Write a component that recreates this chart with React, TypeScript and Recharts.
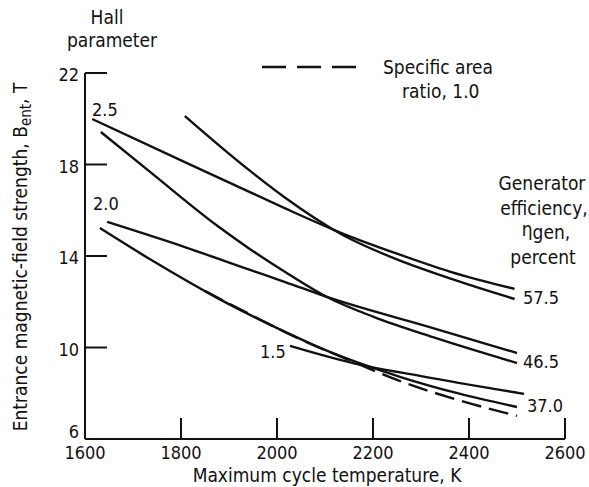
import { LineChart, Line, XAxis, YAxis } from 'recharts';

// Maximum cycle temperature (K) and entrance field strength (T) for each curve
const hall25Temp = [1615, 1808, 1912, 2017, 2137, 2250, 2360, 2495];
const hall25Field = [19.99, 18.1, 17.1, 16.08, 14.98, 14.1, 13.32, 12.56];

const hall20Temp = [1646, 1808, 1944, 2017, 2104, 2325, 2500];
const hall20Field = [15.49, 14.39, 13.39, 12.86, 12.21, 10.85, 9.76];

const hall15Temp = [2027, 2158, 2300, 2515];
const hall15Field = [10.07, 9.32, 8.75, 7.97];

const eff575Temp = [1808, 1944, 2017, 2137, 2250, 2360, 2495];
const eff575Field = [20.12, 17.72, 16.55, 14.92, 13.85, 13.02, 12.12];

const eff465Temp = [1633, 1740, 1877, 1944, 2017, 2104, 2200, 2325, 2500];
const eff465Field = [19.42, 17.6, 15.3, 14.3, 13.3, 12.21, 11.35, 10.45, 9.32];

const eff370Temp = [1631, 1740, 1877, 2017, 2090, 2256, 2380, 2500];
const eff370Field = [15.22, 13.8, 12.15, 10.68, 9.98, 8.72, 7.98, 7.4];

// specific area ratio 1.0 (dashed)
const areaTemp = [1850, 1950, 2050, 2150, 2250, 2370, 2500];
const areaField = [12.47, 11.38, 10.34, 9.45, 8.58, 7.75, 7.01];

const xTicks = [1600, 1800, 2000, 2200, 2400, 2600];
const yTicks = [6, 10, 14, 18, 22];

const toPoints = (temps: number[], fields: number[]) =>
  temps.map((t, i) => ({ t, b: fields[i] }));

const FONT = "'Liberation Sans Narrow', 'DejaVu Sans Condensed', 'Liberation Sans', sans-serif";
const INK = '#111';

const XTick = (props: any) => {
  const { x, y, payload } = props;
  return (
    <g>
      {payload.value !== 1600 && (
        <line x1={x} y1={y} x2={x} y2={y - 21} stroke={INK} strokeWidth={2} />
      )}
      <text x={x} y={y + 20} textAnchor="middle" fontSize={18} fontFamily={FONT} fill={INK}>
        {payload.value}
      </text>
    </g>
  );
};

const YTick = (props: any) => {
  const { x, y, payload } = props;
  const dy = payload.value === 6 ? -1 : 8;
  return (
    <g>
      {payload.value !== 6 && (
        <line x1={x} y1={y} x2={x + 22} y2={y} stroke={INK} strokeWidth={2} />
      )}
      <text x={x - 6} y={y + dy} textAnchor="end" fontSize={18} fontFamily={FONT} fill={INK}>
        {payload.value}
      </text>
    </g>
  );
};

const curve = (temps: number[], fields: number[], dashed = false) => (
  <Line
    data={toPoints(temps, fields)}
    dataKey="b"
    type="monotone"
    stroke={INK}
    strokeWidth={2.4}
    strokeDasharray={dashed ? '20 8' : undefined}
    dot={false}
    activeDot={false}
    isAnimationActive={false}
  />
);

export default function App() {
  const txt = { fontFamily: FONT, fontSize: 19, fill: INK };
  return (
    <div style={{ position: 'absolute', left: 0, top: 0, width: 589, height: 487, background: '#fff' }}>
      <LineChart width={589} height={487} margin={{ top: 73, right: 24, bottom: 18, left: 25 }}>
        <XAxis
          type="number"
          dataKey="t"
          domain={[1600, 2600]}
          ticks={xTicks}
          allowDataOverflow
          height={30}
          tickSize={0}
          tickMargin={0}
          tickLine={false}
          tick={XTick}
          axisLine={{ stroke: INK, strokeWidth: 2 }}
        />
        <YAxis
          type="number"
          domain={[6, 22]}
          ticks={yTicks}
          allowDataOverflow
          width={60}
          tickSize={0}
          tickMargin={0}
          tickLine={false}
          tick={YTick}
          axisLine={{ stroke: INK, strokeWidth: 2 }}
        />
        {curve(hall25Temp, hall25Field)}
        {curve(eff575Temp, eff575Field)}
        {curve(hall20Temp, hall20Field)}
        {curve(eff465Temp, eff465Field)}
        {curve(eff370Temp, eff370Field)}
        {curve(hall15Temp, hall15Field)}
        {curve(areaTemp, areaField, true)}
      </LineChart>

      <svg width={589} height={487} style={{ position: 'absolute', left: 0, top: 0, pointerEvents: 'none' }}>
        <text x={107} y={24} textAnchor="middle" {...txt}>Hall</text>
        <text x={112} y={47} textAnchor="middle" {...txt}>parameter</text>

        <line x1={262} y1={67} x2={356} y2={67} stroke={INK} strokeWidth={2.4} strokeDasharray="24 11" />
        <text x={383} y={74} {...txt}>Specific area</text>
        <text x={402} y={98} {...txt}>ratio, 1.0</text>

        <text x={542} y={190} textAnchor="middle" {...txt}>Generator</text>
        <text x={544} y={215} textAnchor="middle" {...txt}>efficiency,</text>
        <text x={546} y={239} textAnchor="middle" {...txt}>
          <tspan dy={-3}>η</tspan>
          <tspan dy={3}>gen,</tspan>
        </text>
        <text x={543} y={264} textAnchor="middle" {...txt}>percent</text>

        <text x={523} y={304} {...txt} fontSize={18}>57.5</text>
        <text x={523} y={368} {...txt} fontSize={18}>46.5</text>
        <text x={527} y={412} {...txt} fontSize={18}>37.0</text>
        <text x={92} y={116} {...txt} fontSize={18}>2.5</text>
        <text x={93} y={210} {...txt} fontSize={18}>2.0</text>
        <text x={260} y={358} {...txt} fontSize={18}>1.5</text>

        <text x={327} y={482} textAnchor="middle" {...txt}>Maximum cycle temperature, K</text>
        <text transform="translate(27 257) rotate(-90)" textAnchor="middle" {...txt}>
          Entrance magnetic-field strength, B
          <tspan dy={4} fontSize={15}>ent</tspan>
          <tspan dy={-4}>, T</tspan>
        </text>
      </svg>
    </div>
  );
}
